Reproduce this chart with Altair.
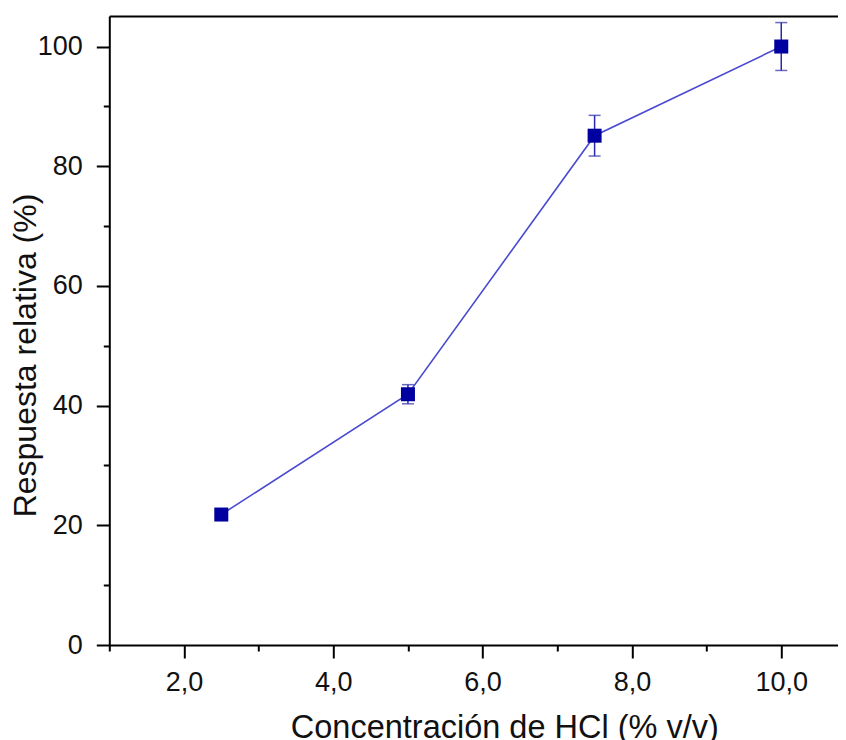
import altair as alt
import pandas as pd

conc = [2.5, 5.0, 7.5, 10.0]
resp = [21.8, 41.9, 85.1, 100.0]
err = [0.8, 1.6, 3.4, 4.0]

x_ticks = [1, 2, 3, 4, 5, 6, 7, 8, 9, 10]
y_ticks = [0, 10, 20, 30, 40, 50, 60, 70, 80, 90, 100]

df = pd.DataFrame({"x": conc, "y": resp, "e": err})
df["lo"] = df["y"] - df["e"]
df["hi"] = df["y"] + df["e"]

FONT = "Liberation Sans"
X_DOM = [1.0, 10.76]
Y_DOM = [0.0, 105.1]

xscale = alt.Scale(domain=X_DOM, nice=False, zero=False)
yscale = alt.Scale(domain=Y_DOM, nice=False, zero=False)

x_axis = alt.Axis(
    values=x_ticks,
    labelExpr="datum.value % 2 === 0 ? replace(format(datum.value, '.1f'), '.', ',') : ''",
    tickSize={"condition": {"test": "datum.value % 2 === 0", "value": 13}, "value": 6},
    tickWidth=2, tickColor="black",
    domainColor="black", domainWidth=2,
    labelFont=FONT, labelFontSize=27, labelColor="#111", labelPadding=11,
    labelFlush=False, labelOverlap=False,
    grid=False,
    title="Concentración de HCl (% v/v)",
    titleFont=FONT, titleFontSize=32.5, titleFontWeight="normal", titleColor="#111",
    titleX=395, titleY=92, titleBaseline="alphabetic", titleAlign="center",
)

y_axis = alt.Axis(
    values=y_ticks,
    labelExpr="datum.value % 20 === 0 ? format(datum.value, 'd') : ''",
    tickSize={"condition": {"test": "datum.value % 20 === 0", "value": 13}, "value": 6},
    tickWidth=2, tickColor="black",
    domainColor="black", domainWidth=2,
    labelFont=FONT, labelFontSize=27, labelColor="#111", labelPadding=14,
    labelFlush=False, labelOverlap=False,
    grid=False,
    title="Respuesta relativa (%)",
    titleFont=FONT, titleFontSize=32, titleFontWeight="normal", titleColor="#111",
    titleX=-74, titleY=339, titleBaseline="alphabetic", titleAlign="center", titleAngle=-90,
)

base = alt.Chart(df)

line = base.mark_line(color="#4b4bd2", strokeWidth=1.6).encode(
    x=alt.X("x:Q", scale=xscale, axis=x_axis),
    y=alt.Y("y:Q", scale=yscale, axis=y_axis),
)

top_axis = base.mark_line(opacity=0).encode(
    x=alt.X("x:Q", scale=xscale, axis=alt.Axis(orient="top", labels=False, ticks=False, title=None,
                                                domainColor="black", domainWidth=2, grid=False)),
    y=alt.Y("y:Q", scale=yscale),
)

ec = "#2a2aa8"
rules = base.mark_rule(color=ec, strokeWidth=1.5).encode(
    x=alt.X("x:Q", scale=xscale, axis=None), y="lo:Q", y2="hi:Q"
)
cap_lo = base.mark_tick(color=ec, orient="horizontal", size=12, thickness=1.5).encode(
    x=alt.X("x:Q", scale=xscale, axis=None), y="lo:Q"
)
cap_hi = base.mark_tick(color=ec, orient="horizontal", size=12, thickness=1.5).encode(
    x=alt.X("x:Q", scale=xscale, axis=None), y="hi:Q"
)

points = base.mark_square(color="#0000a0", size=196, opacity=1, filled=True).encode(
    x=alt.X("x:Q", scale=xscale, axis=None), y="y:Q"
)

chart = alt.layer(line, top_axis, rules, cap_lo, cap_hi, points).resolve_axis(x="independent").properties(
    width=728.7,
    height=629,
    autosize=alt.AutoSizeParams(type="none"),
    padding={"left": 101.3, "top": 8, "right": 0, "bottom": 95},
    background="white",
).configure_view(stroke=None)

chart.save("out.html", embed_options={"renderer": "svg", "actions": False})
